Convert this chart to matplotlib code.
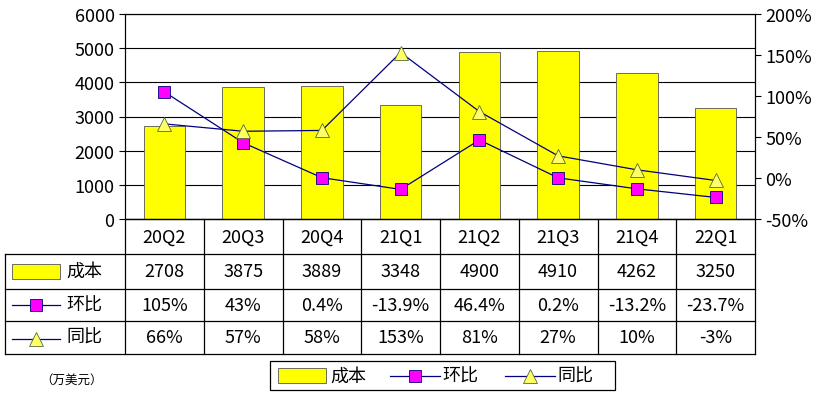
import matplotlib

matplotlib.use("Agg")
import matplotlib.pyplot as plt
from matplotlib.lines import Line2D
from matplotlib.patches import Rectangle

plt.rcParams["font.family"] = ["Noto Sans CJK SC", "DejaVu Sans"]

quarters = ["20Q2", "20Q3", "20Q4", "21Q1", "21Q2", "21Q3", "21Q4", "22Q1"]
cost = [2708, 3875, 3889, 3348, 4900, 4910, 4262, 3250]
qoq = [105, 43, 0.4, -13.9, 46.4, 0.2, -13.2, -23.7]
yoy = [66, 57, 58, 153, 81, 27, 10, -3]
qoq_labels = ["105%", "43%", "0.4%", "-13.9%", "46.4%", "0.2%", "-13.2%", "-23.7%"]
yoy_labels = ["66%", "57%", "58%", "153%", "81%", "27%", "10%", "-3%"]

W, H = 836, 414
fig = plt.figure(figsize=(W / 100, H / 100), dpi=100)


def fx(x):
    return x / W


def fy(y):
    return 1 - y / H


L, R, T, B = 125, 755, 15, 220
ax = fig.add_axes([fx(L), fy(B), fx(R) - fx(L), fy(T) - fy(B)])
xs = list(range(len(quarters)))
ax.bar(xs, cost, width=0.53, color="#FFFF00", edgecolor="#555555", linewidth=0.6, zorder=2)
ax.set_xlim(-0.5, len(quarters) - 0.5)
ax.set_ylim(0, 6000)
ax.set_yticks(range(0, 6001, 1000))
ax.yaxis.grid(True, color="black", linewidth=0.8)
ax.set_xticks([])
ax.tick_params(axis="y", labelsize=13, length=4)

ax2 = ax.twinx()
ax2.set_ylim(-50, 200)
ax2.set_yticks(range(-50, 201, 50))
ax2.set_yticklabels([f"{v}%" for v in range(-50, 201, 50)])
ax2.tick_params(axis="y", labelsize=13, length=4)
ax2.plot(xs, qoq, color="#000080", linewidth=0.9, marker="s", markersize=9,
         markerfacecolor="#FF00FF", markeredgecolor="#000080", markeredgewidth=0.6)
ax2.plot(xs, yoy, color="#000080", linewidth=0.9, marker="^", markersize=10,
         markerfacecolor="#FFFF66", markeredgecolor="#556B2F", markeredgewidth=0.6)

# data table
rows_y = [220, 255, 290, 322, 355]
col_w = (R - L) / len(quarters)
for i, y in enumerate(rows_y):
    x0 = L if i == 0 else 5
    fig.add_artist(Line2D([fx(x0), fx(R)], [fy(y), fy(y)], color="black", linewidth=0.9))
fig.add_artist(Line2D([fx(5), fx(5)], [fy(255), fy(355)], color="black", linewidth=0.9))
for k in range(len(quarters) + 1):
    x = L + k * col_w
    fig.add_artist(Line2D([fx(x), fx(x)], [fy(220), fy(355)], color="black", linewidth=0.9))

for k, q in enumerate(quarters):
    cx = L + (k + 0.5) * col_w
    fig.text(fx(cx), fy(238), q, ha="center", va="center", fontsize=13)
    fig.text(fx(cx), fy(272), str(cost[k]), ha="center", va="center", fontsize=13)
    fig.text(fx(cx), fy(306), qoq_labels[k], ha="center", va="center", fontsize=13)
    fig.text(fx(cx), fy(338), yoy_labels[k], ha="center", va="center", fontsize=13)

# row headers
fig.add_artist(Rectangle((fx(12), fy(280)), fx(48), fy(265) - fy(280),
                         facecolor="#FFFF00", edgecolor="#555555", linewidth=0.6))
fig.text(fx(66), fy(272), "成本", va="center", fontsize=13)
fig.add_artist(Line2D([fx(12), fx(60)], [fy(306), fy(306)], color="#000080", linewidth=0.9))
fig.add_artist(Line2D([fx(36)], [fy(306)], marker="s", markersize=9, markerfacecolor="#FF00FF",
                      markeredgecolor="#000080", markeredgewidth=0.6, linestyle="none"))
fig.text(fx(66), fy(306), "环比", va="center", fontsize=13)
fig.add_artist(Line2D([fx(12), fx(60)], [fy(340), fy(340)], color="#000080", linewidth=0.9))
fig.add_artist(Line2D([fx(36)], [fy(340)], marker="^", markersize=10, markerfacecolor="#FFFF66",
                      markeredgecolor="#556B2F", markeredgewidth=0.6, linestyle="none"))
fig.text(fx(66), fy(338), "同比", va="center", fontsize=13)

fig.text(fx(40), fy(380), "（万美元）", va="center", fontsize=9)

# legend box
fig.add_artist(Rectangle((fx(270), fy(391)), fx(345), fy(362) - fy(391), facecolor="white",
                         edgecolor="black", linewidth=0.9))
fig.add_artist(Rectangle((fx(278), fy(384)), fx(48), fy(369) - fy(384),
                         facecolor="#FFFF00", edgecolor="#555555", linewidth=0.6))
fig.text(fx(330), fy(377), "成本", va="center", fontsize=13)
fig.add_artist(Line2D([fx(390), fx(440)], [fy(377), fy(377)], color="#000080", linewidth=0.9))
fig.add_artist(Line2D([fx(415)], [fy(377)], marker="s", markersize=9, markerfacecolor="#FF00FF",
                      markeredgecolor="#000080", markeredgewidth=0.6, linestyle="none"))
fig.text(fx(442), fy(377), "环比", va="center", fontsize=13)
fig.add_artist(Line2D([fx(505), fx(555)], [fy(377), fy(377)], color="#000080", linewidth=0.9))
fig.add_artist(Line2D([fx(530)], [fy(377)], marker="^", markersize=10, markerfacecolor="#FFFF66",
                      markeredgecolor="#556B2F", markeredgewidth=0.6, linestyle="none"))
fig.text(fx(557), fy(377), "同比", va="center", fontsize=13)

fig.savefig("out.png", dpi=100)
